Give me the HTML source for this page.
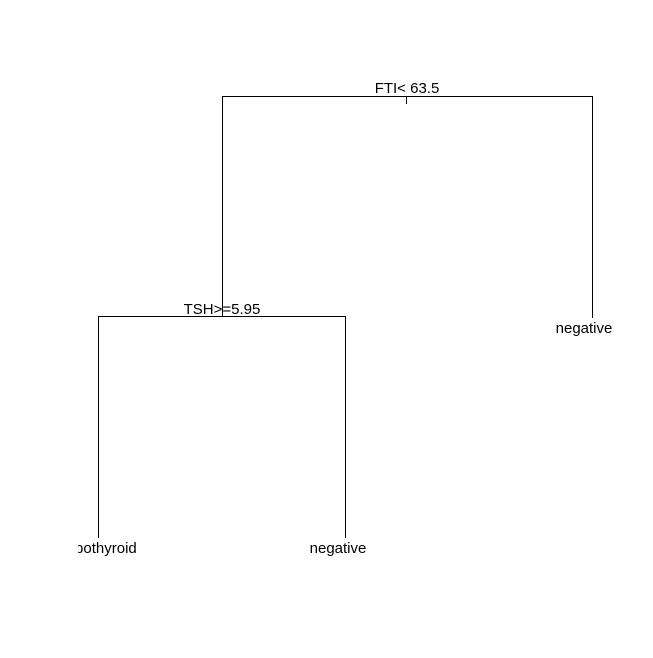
<!DOCTYPE html>
<html><head><style>html,body{margin:0;padding:0;background:#fff;}</style></head>
<body>
<svg width="653" height="653" xmlns="http://www.w3.org/2000/svg">
<defs><clipPath id="c"><rect x="78" y="0" width="534" height="653"/></clipPath></defs>
<rect width="653" height="653" fill="#fff"/>
<g stroke="#000" stroke-width="1" fill="none" shape-rendering="crispEdges">
<path d="M222.5 316V96.5H592.5V318"/>
<path d="M406.5 96V104"/>
<path d="M98.5 538V316.5H345.5V538"/>
</g>
<g clip-path="url(#c)" font-family="Liberation Sans, sans-serif" font-size="15" text-anchor="middle" fill="#000">
<text x="407" y="93">FTI&lt; 63.5</text>
<text x="222" y="314">TSH&gt;=5.95</text>
<text x="584" y="333">negative</text>
<text x="98" y="553">hypothyroid</text>
<text x="338" y="553">negative</text>
</g>
</svg>
</body></html>
